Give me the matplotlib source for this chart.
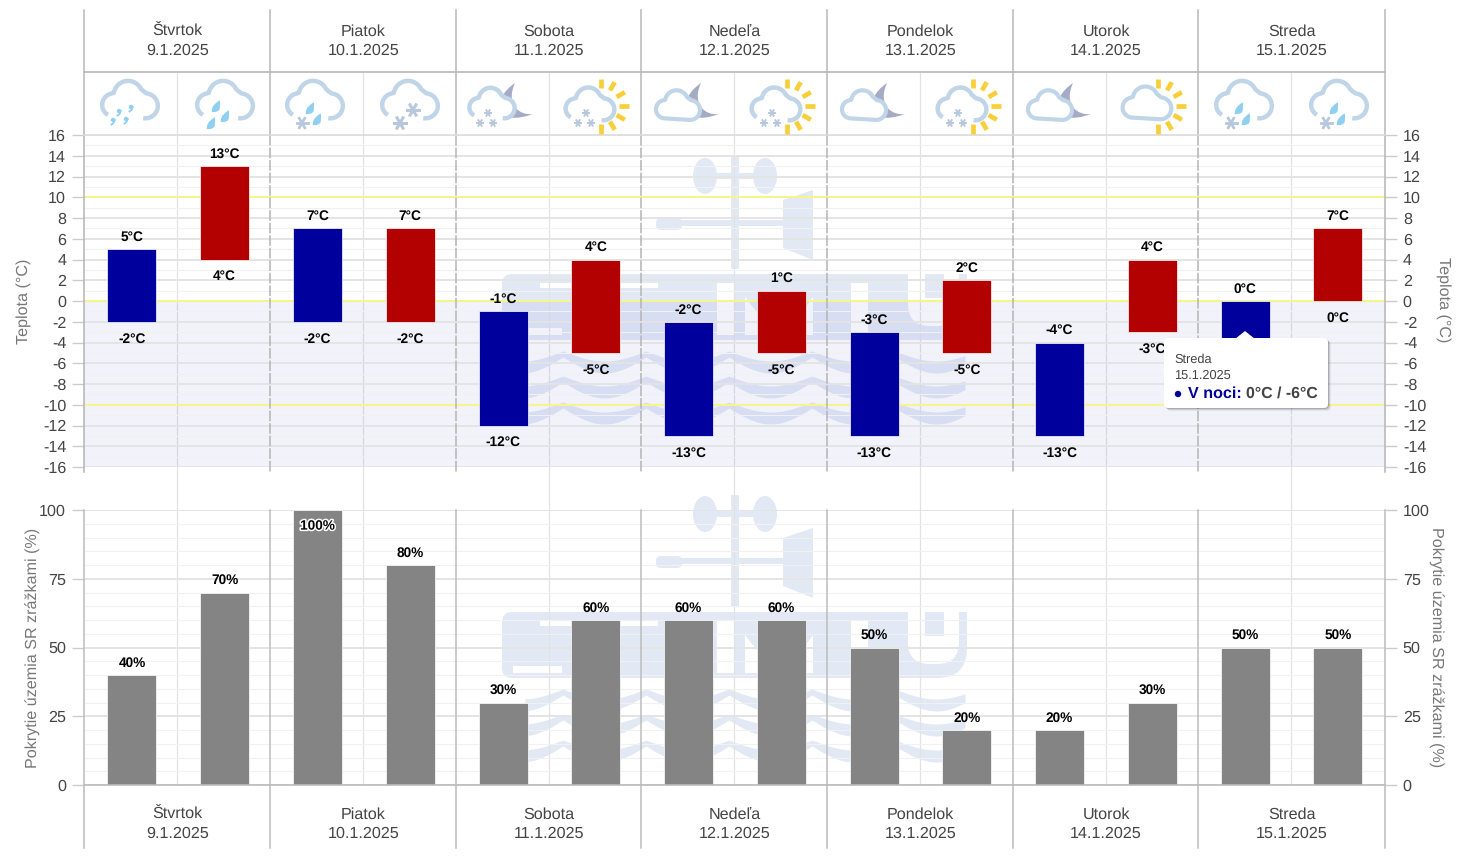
import numpy as np
import matplotlib
matplotlib.use("Agg")
import matplotlib.pyplot as plt
import matplotlib.patheffects as pe
from matplotlib.patches import Circle, Ellipse, FancyBboxPatch, PathPatch, Polygon, Rectangle
from matplotlib.path import Path

plt.rcParams["font.family"] = ["Liberation Sans", "DejaVu Sans"]
plt.rcParams["axes.unicode_minus"] = False
plt.rcParams["text.hinting"] = "none"

W, H = 1473, 857

days = ["Štvrtok", "Piatok", "Sobota", "Nedeľa", "Pondelok", "Utorok", "Streda"]
dates = ["9.1.2025", "10.1.2025", "11.1.2025", "12.1.2025", "13.1.2025", "14.1.2025", "15.1.2025"]

night_high = [5, 7, -1, -2, -3, -4, 0]
night_low = [-2, -2, -12, -13, -13, -13, -6]
day_high = [13, 7, 4, 1, 2, 4, 7]
day_low = [4, -2, -5, -5, -5, -3, 0]
precip = [40, 70, 100, 80, 30, 60, 60, 60, 50, 20, 20, 30, 50, 50]

icons = ["drizzle", "rain", "sleet", "snow", "moon_snow", "sun_snow", "moon_cloud",
         "sun_snow", "moon_cloud", "sun_snow", "moon_cloud", "sun_cloud", "sleet", "sleet"]
icon_x = [130, 225, 315, 410, 492, 590, 678, 776, 864, 962, 1050, 1147, 1244, 1339]

day_edges = [84, 270, 456, 641, 827, 1013, 1198, 1385]
half_lines = [177, 363, 549, 734, 920, 1106, 1291]

BLUE = "#00009c"
RED = "#b30000"
GRAY = "#848484"
CLOUD = "#c0d5e8"
DROP = "#8fd0f0"
FLAKE = "#b8c8dc"
SUN = "#f8cf3a"
MOON = "#a5abc5"
WM = "#e2e9f5"
TXT = "#444444"
PX = 0.72


def make_axes(top, bottom, zorder):
    ax = fig.add_axes([84 / W, 1 - bottom / H, (1385 - 84) / W, (bottom - top) / H], zorder=zorder)
    ax.patch.set_alpha(0)
    for s in ax.spines.values():
        s.set_visible(False)
    ax.set_xlim(-0.517, 13.507)
    ax.set_xticks([])
    ax.tick_params(axis="y", which="major", left=True, right=True, labelright=True, length=12 * PX,
                   width=1, color="#cccccc", labelsize=11.6, labelcolor=TXT, pad=4.2)
    ax.tick_params(axis="y", which="minor", left=False, right=False)
    ax.grid(axis="y", which="major", color="#e4e4e4", lw=1.4, zorder=0)
    ax.grid(axis="y", which="minor", color="#f1f1f1", lw=0.8, zorder=0)
    ax.set_axisbelow(True)
    return ax


def arc(cx, cy, r, a0, a1):
    t = np.radians(np.linspace(a0, a1, 30))
    return np.column_stack([cx + r * np.cos(t), cy - r * np.sin(t)])


def cloud(ax, cx, cy, s=1.0, closed=False):
    pts = np.vstack([
        arc(-17 * s, 3 * s, 12 * s, 240 if not closed else 270, 110),
        arc(-2 * s, -7 * s, 15 * s, 170, 25),
        arc(16 * s, 4 * s, 13 * s, 85, -100 if not closed else -90),
    ]) + [cx, cy]
    if closed:
        ax.add_patch(Polygon(pts, closed=True, fc="white", ec=CLOUD, lw=3.0, joinstyle="round", zorder=5))
    else:
        ax.add_patch(Polygon(pts, closed=True, fc="white", ec="none", zorder=4))
        ax.plot(pts[:, 0], pts[:, 1], color=CLOUD, lw=3.2, solid_capstyle="butt", zorder=5)


def drop(ax, x, y, s=0.85):
    # teardrop leaning to the right at the top
    verts = [(4.5, -8), (-5, -2), (-5, 2), (-5, 6), (-1, 6), (4, 6), (4.5, 1), (5, -3), (4.5, -8), (4.5, -8)]
    codes = [Path.MOVETO, Path.CURVE4, Path.CURVE4, Path.CURVE4, Path.CURVE4, Path.CURVE4,
             Path.CURVE4, Path.CURVE4, Path.CURVE4, Path.CLOSEPOLY]
    v = np.array(verts) * s + [x, y]
    ax.add_patch(PathPatch(Path(v, codes), fc=DROP, ec="none", zorder=6))


def flake(ax, x, y, r=4.0, lw=1.6):
    for a in (0, 60, 120):
        t = np.radians(a)
        ax.plot([x - r * np.cos(t), x + r * np.cos(t)], [y - r * np.sin(t), y + r * np.sin(t)],
                color=FLAKE, lw=lw, zorder=6)


def comma(ax, x, y):
    ax.add_patch(Circle((x, y), 2.2, fc=DROP, ec="none", zorder=6))
    ax.plot([x + 1.8, x + 0.5, x - 1.5], [y, y + 3, y + 4.5], color=DROP, lw=1.3, zorder=6)


def sun(ax, x, y):
    for a in (90, 60, 30, 0, -30, -60, -90):
        t = np.radians(a)
        ax.plot([x + 18 * np.cos(t), x + 27.5 * np.cos(t)], [y - 18 * np.sin(t), y - 27.5 * np.sin(t)],
                color=SUN, lw=3.4, solid_capstyle="butt", zorder=3)


def moon(ax, cx):
    # crescent behind the cloud, tips at the top and on the lower right
    v = [(cx + 23, 83), (cx - 2, 100), (cx + 3, 128), (cx + 41, 114),
         (cx + 28, 116), (cx + 13, 105), (cx + 23, 83), (cx + 23, 83)]
    codes = [Path.MOVETO, Path.CURVE4, Path.CURVE4, Path.CURVE4,
             Path.CURVE4, Path.CURVE4, Path.CURVE4, Path.CLOSEPOLY]
    ax.add_patch(PathPatch(Path(v, codes), fc=MOON, ec="none", zorder=3))


def draw_icon(ax, kind, x):
    if kind in ("drizzle", "rain", "sleet", "snow"):
        cloud(ax, x, 102, 0.96)
    if kind == "drizzle":
        for dx, dy in [(-11, 11), (1, 7), (-17, 20), (-4, 19)]:
            comma(ax, x + dx, 100 + dy)
    elif kind == "rain":
        drop(ax, x - 9, 107)
        drop(ax, x, 117)
        drop(ax, x - 14, 124)
    elif kind == "sleet":
        drop(ax, x - 5, 109)
        drop(ax, x + 2, 120)
        flake(ax, x - 13, 123, 5.5, 2.0)
    elif kind == "snow":
        flake(ax, x + 3, 110, 6.0, 2.2)
        flake(ax, x - 10, 123, 6.0, 2.2)
    elif kind in ("moon_snow", "moon_cloud"):
        moon(ax, x)
        if kind == "moon_snow":
            cloud(ax, x, 105, 0.78)
        else:
            cloud(ax, x, 107, 0.76, closed=True)
    elif kind in ("sun_snow", "sun_cloud"):
        sun(ax, x + 11, 106)
        if kind == "sun_snow":
            cloud(ax, x, 106, 0.84)
        else:
            cloud(ax, x, 105, 0.84, closed=True)
    if kind in ("moon_snow", "sun_snow"):
        for dx, dy in [(-4, 113), (-12, 123), (1, 123)]:
            flake(ax, x + dx, dy, 3.2, 1.4)


def watermark(ax, dy):
    def rect(x0, y0, x1, y1, c=WM, z=1):
        ax.add_patch(Rectangle((x0, y0 + dy), x1 - x0, y1 - y0, fc=c, ec="none", zorder=z))

    # wind vane
    ax.add_patch(Ellipse((705, 176 + dy), 24, 36, fc=WM, ec="none"))
    ax.add_patch(Ellipse((765, 176 + dy), 24, 36, fc=WM, ec="none"))
    rect(705, 173, 765, 179)
    rect(731, 157, 739, 269)
    rect(668, 220, 788, 226)
    ax.add_patch(FancyBboxPatch((656, 218 + dy), 26, 12, boxstyle="round,pad=0,rounding_size=5", fc=WM, ec="none"))
    ax.add_patch(Polygon([(783, 200 + dy), (813, 190 + dy), (813, 260 + dy), (783, 248 + dy)], fc=WM, ec="none"))
    # blocky logo lettering
    ax.add_patch(FancyBboxPatch((502, 274 + dy), 400, 66, boxstyle="round,pad=0,rounding_size=10",
                                fc=WM, ec="none", zorder=1))
    ax.add_patch(FancyBboxPatch((860, 274 + dy), 107, 66, boxstyle="round,pad=0,rounding_size=30",
                                fc=WM, ec="none", zorder=1))
    rect(860, 274, 967, 305)
    rect(540, 283, 658, 288, "white", 1.5)
    rect(513, 328, 562, 335, "white", 1.5)
    rect(717, 283, 735, 335, "white", 1.5)
    rect(851, 283, 868, 335, "white", 1.5)
    ax.add_patch(Polygon([(745, 297 + dy), (745, 335 + dy), (775, 335 + dy)], fc="white", ec="none", zorder=1.5))
    ax.add_patch(Polygon([(813, 297 + dy), (813, 335 + dy), (785, 335 + dy)], fc="white", ec="none", zorder=1.5))
    ax.add_patch(FancyBboxPatch((908, 250 + dy), 51, 76, boxstyle="round,pad=0,rounding_size=22",
                                fc="white", ec="none", zorder=1.5))
    rect(908, 250, 959, 300, "white", 1.5)
    rect(925, 274, 944, 298, WM, 1.6)
    # three rows of crescent waves
    xs = np.linspace(525, 965, 800)
    s = np.abs(np.sin(np.pi * (xs - 563) / 83))
    for y0 in (351, 376, 402):
        ax.fill_between(xs, y0 + dy + 10 * s, y0 + dy + 6 + 16 * s, color=WM, lw=0, zorder=1)


fig = plt.figure(figsize=(W / 100, H / 100), dpi=100, facecolor="white")

bg = fig.add_axes([0, 0, 1, 1], zorder=0)
bg.set_xlim(0, W)
bg.set_ylim(H, 0)
bg.axis("off")
watermark(bg, 0)
watermark(bg, 338)
for x in half_lines:
    bg.plot([x, x], [72, 785], color="#e2e2e2", lw=0.9, zorder=2)

ax_t = make_axes(135, 467, 1)
ax_t.set_ylim(-16, 16)
ax_t.set_yticks(np.arange(-16, 17, 2))
ax_t.set_yticks(np.arange(-16, 17, 1), minor=True)
ax_t.axhspan(-16, 0, color="#2a2ac8", alpha=0.06, lw=0, zorder=0)
for y in (10, 0, -10):
    ax_t.axhline(y, color="#f5f58c", lw=1.5, zorder=1)

x_night = np.arange(0, 14, 2)
x_day = np.arange(1, 14, 2)
bw = 49 / 92.77
ax_t.bar(x_night, np.array(night_high) - np.array(night_low), bottom=night_low, width=bw,
         color=BLUE, edgecolor="white", lw=0.5, zorder=3)
ax_t.bar(x_day, np.array(day_high) - np.array(day_low), bottom=day_low, width=bw,
         color=RED, edgecolor="white", lw=0.5, zorder=3)

for xs, hi, lo in ((x_night, night_high, night_low), (x_day, day_high, day_low)):
    for x, h, l in zip(xs, hi, lo):
        ax_t.annotate(f"{h}°C", (x, h), xytext=(0, 12 * PX), textcoords="offset points", ha="center",
                      va="center", fontsize=9.8, fontweight="bold", color="black", zorder=4)
        ax_t.annotate(f"{l}°C", (x, l), xytext=(0, -17 * PX), textcoords="offset points", ha="center",
                      va="center", fontsize=9.8, fontweight="bold", color="black", zorder=4)

ax_p = make_axes(510, 785, 1)
ax_p.set_ylim(0, 100)
ax_p.set_yticks(np.arange(0, 101, 25))
ax_p.set_yticks(np.arange(0, 101, 5), minor=True)
ax_p.bar(np.arange(14), precip, width=bw, color=GRAY, edgecolor="white", lw=0.5, zorder=3)
ax_p.axhline(0, color="#bbbbbb", lw=1.2, zorder=4, clip_on=False)
for i, v in enumerate(precip):
    if v == 100:
        ax_p.annotate(f"{v}%", (i, v), xytext=(0, -16 * PX), textcoords="offset points", ha="center",
                      va="center", fontsize=9.8, fontweight="bold", color="black", zorder=5,
                      path_effects=[pe.withStroke(linewidth=2.2, foreground="white")])
    else:
        ax_p.annotate(f"{v}%", (i, v), xytext=(0, 12 * PX), textcoords="offset points", ha="center",
                      va="center", fontsize=9.8, fontweight="bold", color="black", zorder=5)

# frame, headers, icons, tooltip in pixel coordinates
top = fig.add_axes([0, 0, 1, 1], zorder=3)
top.set_xlim(0, W)
top.set_ylim(H, 0)
top.axis("off")
top.patch.set_alpha(0)

for x in day_edges:
    top.plot([x, x], [10, 135], color="#b8b8b8", lw=1.1, zorder=1)
    top.plot([x, x], [135, 472], color="#b4b4b4", lw=1.1, zorder=1,
             dashes=(7, 1.2) if x not in (84, 1385) else (None, None))
    top.plot([x, x], [510, 848], color="#bcbcbc", lw=1.1, zorder=1)
top.plot([84, 1385], [71.5, 71.5], color="#b8b8b8", lw=1.2, zorder=1)
top.plot([84, 1385], [134.5, 134.5], color="#dddddd", lw=1.2, zorder=1)

for i in range(7):
    xc = (day_edges[i] + day_edges[i + 1]) / 2 + 0.5
    for y0 in (32, 815):
        top.text(xc, y0, days[i], ha="center", va="center", fontsize=11.6, color=TXT)
        top.text(xc, y0 + 19, dates[i], ha="center", va="center", fontsize=11.6, color=TXT)

for kind, x in zip(icons, icon_x):
    draw_icon(top, kind, x)

top.text(24, 301, "Teplota (°C)", rotation=90, ha="center", va="center", fontsize=11.6, color="#777777")
top.text(1443, 300, "Teplota (°C)", rotation=270, ha="center", va="center", fontsize=11.6, color="#777777")
top.text(33, 648, "Pokrytie územia SR zrážkami (%)", rotation=90, ha="center", va="center",
         fontsize=11.6, color="#777777")
top.text(1436, 647, "Pokrytie územia SR zrážkami (%)", rotation=270, ha="center", va="center",
         fontsize=11.6, color="#777777")

for off, a in ((3, 0.06), (2, 0.10), (1, 0.16)):
    top.add_patch(FancyBboxPatch((1164 + off, 338 + off), 164, 70, boxstyle="round,pad=0,rounding_size=4",
                                 fc="black", ec="none", alpha=a, zorder=8))
top.add_patch(FancyBboxPatch((1164, 338), 164, 70, boxstyle="round,pad=0,rounding_size=4",
                             fc="white", ec="none", zorder=9))
top.add_patch(Polygon([(1235, 339), (1245, 331), (1255, 339)], fc="white", ec="none", zorder=9))
top.text(1174, 360, "Streda", ha="left", va="center", fontsize=9.2, color=TXT, zorder=10)
top.text(1174, 376, "15.1.2025", ha="left", va="center", fontsize=9.2, color=TXT, zorder=10)
top.add_patch(Circle((1178, 394), 3.2, fc=BLUE, ec="none", zorder=10))
top.text(1188, 394, "V noci:", ha="left", va="center", fontsize=11.6, fontweight="bold", color=BLUE, zorder=10)
top.text(1246, 394, "0°C / -6°C", ha="left", va="center", fontsize=11.4, fontweight="bold", color=TXT, zorder=10)

fig.savefig("out.png", dpi=100)
